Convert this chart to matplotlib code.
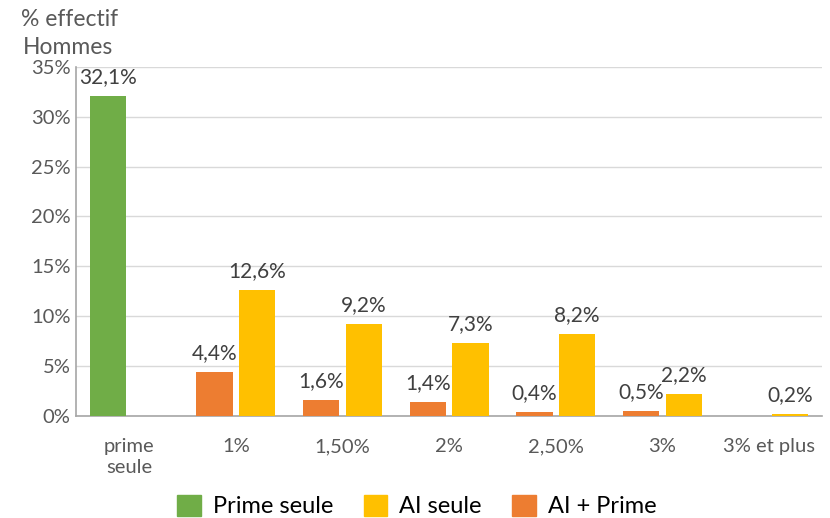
import numpy as np
import matplotlib.pyplot as plt
from matplotlib.patches import Patch

plt.rcParams['font.family'] = ['Lato', 'DejaVu Sans']

categories = ["prime\nseule", "1%", "1,50%", "2%", "2,50%", "3%", "3% et plus"]
prime_seule = [32.1, None, None, None, None, None, None]
ai_prime = [None, 4.4, 1.6, 1.4, 0.4, 0.5, None]
ai_seule = [None, 12.6, 9.2, 7.3, 8.2, 2.2, 0.2]

vert = "#70AD47"
jaune = "#FFC000"
orange = "#ED7D31"
gris = "#595959"

fig = plt.figure(figsize=(8.3, 5.18), dpi=100)
ax = fig.add_axes([0.0916, 0.197, 0.899, 0.674])

x = np.arange(len(categories))
w = 0.34
dx = 0.2


def barres(valeurs, decal, couleur):
    for i, v in enumerate(valeurs):
        if v is None:
            continue
        ax.bar(x[i] + decal, v, width=w, color=couleur, zorder=3)
        ax.text(x[i] + decal, v + 0.9, f"{v:.1f}%".replace(".", ","),
                ha="center", va="bottom", fontsize=15, color="#404040")


barres(prime_seule, -dx, vert)
barres(ai_prime, -dx, orange)
barres(ai_seule, dx, jaune)

ax.set_xlim(-0.5, len(categories) - 0.5)
ax.set_ylim(0, 35)
ax.set_yticks(np.arange(0, 36, 5))
ax.set_yticklabels([f"{t}%" for t in range(0, 36, 5)], fontsize=14.5, color=gris)
ax.set_xticks(x)
ax.set_xticklabels(categories, fontsize=14.5, color=gris, linespacing=1.25)
ax.tick_params(axis="both", length=0)
ax.tick_params(axis="x", pad=16)
ax.tick_params(axis="y", pad=4)

ax.grid(axis="y", color="#D9D9D9", linewidth=1, zorder=0)
for s in ["top", "right"]:
    ax.spines[s].set_visible(False)
for s in ["left", "bottom"]:
    ax.spines[s].set_color("#A6A6A6")
    ax.spines[s].set_linewidth(1.2)

fig.text(0.025, 0.942, "% effectif", fontsize=16.5, color=gris, va="bottom")
fig.text(0.028, 0.888, "Hommes", fontsize=16.5, color=gris, va="bottom")

handles = [Patch(color=vert), Patch(color=jaune), Patch(color=orange)]
fig.legend(handles, ["Prime seule", "AI seule", "AI + Prime"],
           loc="lower center", bbox_to_anchor=(0.502, -0.04), ncol=3,
           frameon=False, fontsize=17, handlelength=1.0, handleheight=1.0,
           columnspacing=1.3, handletextpad=0.5)

fig.savefig("out.png", dpi=100)
